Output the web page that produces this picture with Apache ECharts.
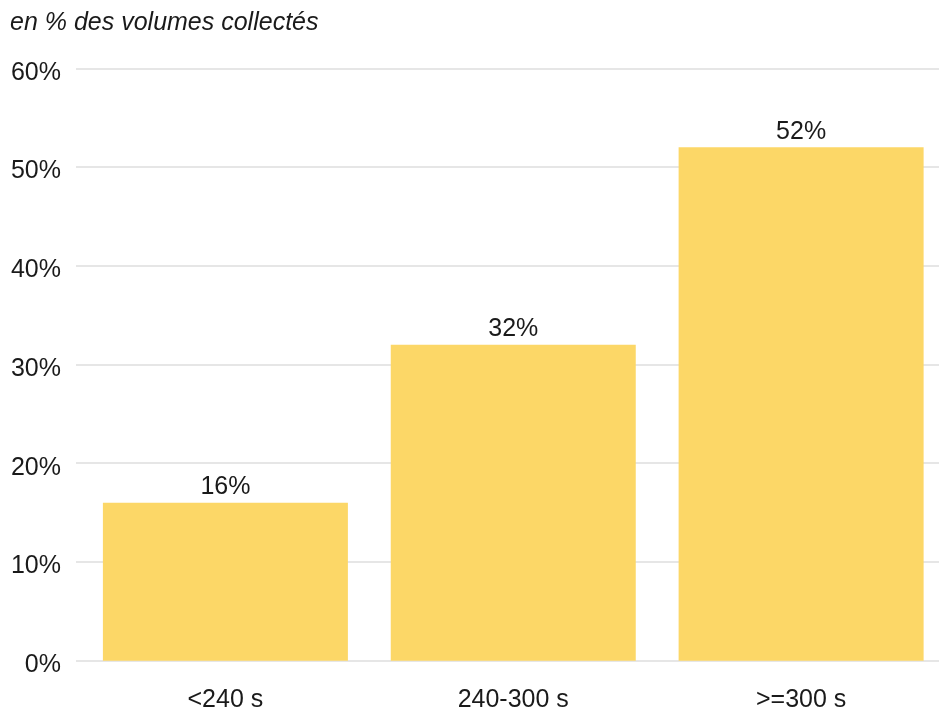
<!DOCTYPE html>
<html>
<head>
<meta charset="utf-8">
<script src="https://cdn.jsdelivr.net/npm/echarts@6/dist/echarts.min.js"></script>
<style>
  html, body { margin: 0; padding: 0; background: #fff; }
  #chart { width: 939px; height: 707px; }
</style>
</head>
<body>
<div id="chart"></div>
<script>
// Share of collected volumes by duration class
const categories = ['<240 s', '240-300 s', '>=300 s'];
const shares = [16, 32, 52];
const yTicks = [0, 10, 20, 30, 40, 50, 60];

const FONT = '"Liberation Sans", Arial, sans-serif';
const TEXT = '#1a1a1a';

// categories sit at positions 1..n on a numeric x scale
const positions = categories.map((_, i) => i + 1);
const barData = shares.map((v, i) => [positions[i], v]);

const chart = echarts.init(document.getElementById('chart'), null, { renderer: 'canvas' });

chart.setOption({
  backgroundColor: '#ffffff',
  animation: false,
  title: {
    text: 'en % des volumes collectés',
    left: 5,
    top: 6,
    textStyle: { fontFamily: FONT, fontSize: 25, fontStyle: 'italic', fontWeight: 'normal', color: TEXT }
  },
  grid: {
    left: 76, right: 0, top: 68.3, bottom: 46.3,
    containLabel: false,
    outerBoundsMode: 'none'
  },
  xAxis: {
    type: 'value',
    min: 0.481,
    max: 3.479,
    axisLine: { show: false },
    axisTick: { show: false },
    splitLine: { show: false },
    axisLabel: {
      customValues: positions,
      margin: 27,
      fontFamily: FONT,
      fontSize: 25,
      color: TEXT,
      formatter: v => categories[Math.round(v) - 1]
    }
  },
  yAxis: {
    type: 'value', min: yTicks[0], max: yTicks[yTicks.length - 1], interval: 10,
    axisLine: { show: false },
    axisTick: { show: false },
    splitLine: { lineStyle: { color: '#e6e6e6', width: 2 } },
    axisLabel: {
      margin: 15, fontFamily: FONT, fontSize: 25, color: TEXT,
      // short line box hung from the tick: text sits a few px below the gridline
      verticalAlign: 'top',
      lineHeight: 9,
      formatter: v => v + '%'
    }
  },
  series: [
    {
      type: 'bar',
      data: barData,
      barWidth: 245,
      itemStyle: { color: '#fcd767' },
      label: {
        show: true,
        position: 'top',
        distance: 3,
        fontFamily: FONT,
        fontSize: 25,
        color: TEXT,
        formatter: p => p.value[1] + '%'
      }
    }
  ]
});
</script>
</body>
</html>
